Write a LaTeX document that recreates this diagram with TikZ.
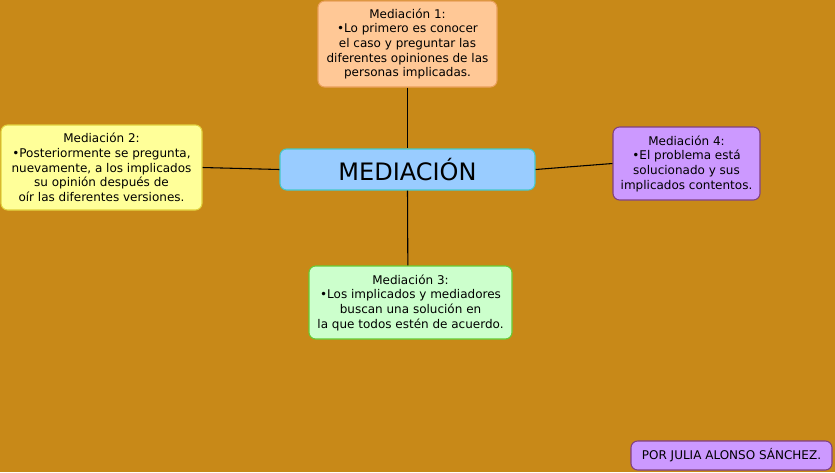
\documentclass[tikz,border=0pt]{standalone}
\usepackage{xcolor}
\usepackage{fontspec}
\setmainfont{DejaVu Sans}
\definecolor{fondo}{RGB}{200,137,24}
\definecolor{naranja}{RGB}{255,200,150}
\definecolor{naranjaborde}{RGB}{235,160,90}
\definecolor{amarillo}{RGB}{255,255,153}
\definecolor{amarilloborde}{RGB}{225,210,60}
\definecolor{azul}{RGB}{153,204,255}
\definecolor{azulborde}{RGB}{70,200,200}
\definecolor{lila}{RGB}{204,153,255}
\definecolor{lilaborde}{RGB}{128,64,128}
\definecolor{verde}{RGB}{204,255,204}
\definecolor{verdeborde}{RGB}{102,204,51}

\begin{document}
\begin{tikzpicture}[x=0.75pt, y=-0.75pt]
  % Define styles
  \tikzstyle{caja} = [rectangle, rounded corners=5pt, draw, line width=0.8pt, align=center, font=\fontsize{9}{11}\selectfont, inner sep=0pt]
  \tikzstyle{linea} = [black, line width=0.8pt]

  % Background
  \fill[fondo] (0,0) rectangle (835,472);
  \useasboundingbox (0,0) rectangle (835,472);

  % Nodes
  \node[caja, fill=naranja, draw=naranjaborde, minimum width=134.25pt, minimum height=64.5pt] (m1) at (407.5,44)
    {Mediación 1:\\ •Lo primero es conocer\\ el caso y preguntar las\\ diferentes opiniones de las\\ personas implicadas.};
  \node[caja, fill=amarillo, draw=amarilloborde, minimum width=150.75pt, minimum height=63.75pt] (m2) at (101.5,167.5)
    {Mediación 2:\\ •Posteriormente se pregunta,\\ nuevamente, a los implicados\\ su opinión después de\\ oír las diferentes versiones.};
  \node[caja, fill=azul, draw=azulborde, minimum width=191.25pt, minimum height=30.75pt, font=\fontsize{18}{21}\selectfont] (med) at (407.5,169.5)
    {MEDIACIÓN};
  \node[caja, fill=lila, draw=lilaborde, minimum width=110.25pt, minimum height=54.75pt] (m4) at (686.5,163.5)
    {Mediación 4:\\ •El problema está\\ solucionado y sus\\ implicados contentos.};
  \node[caja, fill=verde, draw=verdeborde, minimum width=152.25pt, minimum height=54.75pt] (m3) at (410.5,302.5)
    {Mediación 3:\\ •Los implicados y mediadores\\ buscan una solución en\\ la que todos estén de acuerdo.};
  \node[caja, fill=lila, draw=lilaborde, minimum width=150.75pt, minimum height=21.75pt] (autor) at (731.5,455.5)
    {POR JULIA ALONSO SÁNCHEZ.};

  % Edges
  \draw[linea] (m1.south) -- (med.north);
  \draw[linea] (med.south) -- ([xshift=-2pt]m3.north);
  \draw[linea] (m2.east) -- (med.west);
  \draw[linea] (med.east) -- (m4.west);
\end{tikzpicture}
\end{document}
